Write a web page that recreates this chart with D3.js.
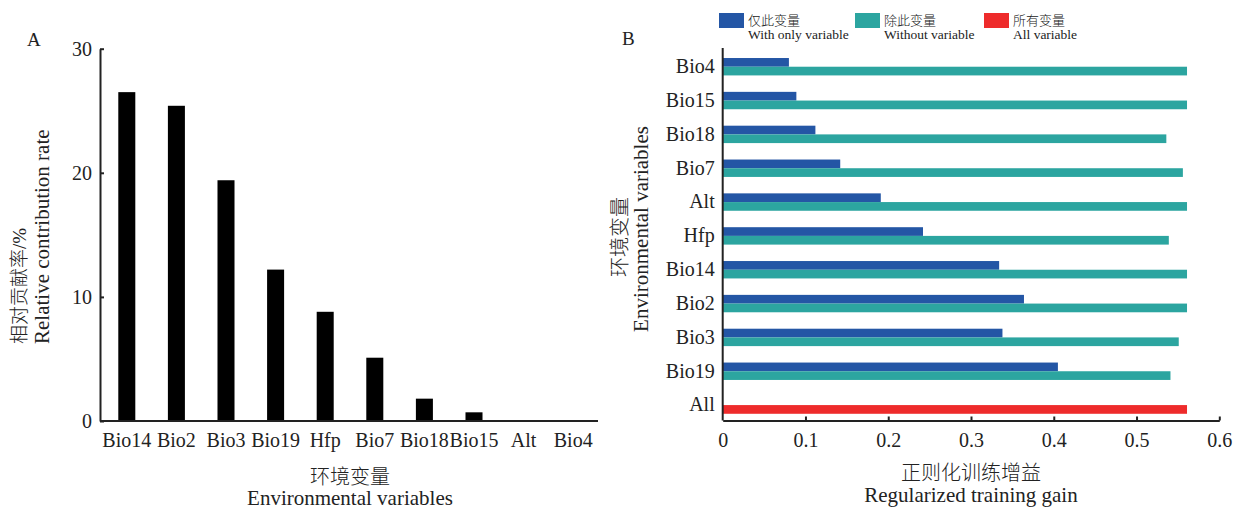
<!DOCTYPE html>
<html>
<head>
<meta charset="utf-8">
<script src="https://cdn.jsdelivr.net/npm/d3@7"></script>
<style>
    body { margin: 0; background: #fff; }
    svg text { font-family: "Liberation Serif", "Noto Sans CJK SC", serif; }
    .tick text { font-size: 20px; fill: #222; }
    .domain, .tick line { stroke: #222; stroke-width: 2px; }
    .zh { font-weight: 300; }
</style>
</head>
<body>
<svg id="chart" width="1241" height="510"></svg>
<script>
(function () {
    "use strict";

    // panel A: relative contribution rate (%)
    var contribNames = ["Bio14", "Bio2", "Bio3", "Bio19", "Hfp", "Bio7", "Bio18", "Bio15", "Alt", "Bio4"];
    var contribValues = [26.5, 25.4, 19.4, 12.2, 8.8, 5.1, 1.8, 0.7, 0, 0];
    var contribTicks = [0, 10, 20, 30];

    // panel B: jackknife of regularized training gain
    var gainNames = ["Bio4", "Bio15", "Bio18", "Bio7", "Alt", "Hfp", "Bio14", "Bio2", "Bio3", "Bio19", "All"];
    var gainOnly = [0.080, 0.089, 0.112, 0.142, 0.191, 0.242, 0.334, 0.364, 0.338, 0.405, null];
    var gainWithout = [0.561, 0.561, 0.536, 0.556, 0.561, 0.539, 0.561, 0.561, 0.551, 0.541, null];
    var gainAll = [null, null, null, null, null, null, null, null, null, null, 0.561];
    var gainTicks = [0, 0.1, 0.2, 0.3, 0.4, 0.5, 0.6];

    var legendZh = ["仅此变量", "除此变量", "所有变量"];
    var legendEn = ["With only variable", "Without variable", "All variable"];
    var seriesColors = ["#2456a5", "#2ca5a0", "#ee2b2b"];

    var svg = d3.select("#chart");

    // ---------- panel A ----------
    var xA = d3.scaleBand().domain(contribNames).range([102, 598])
        .paddingInner(0.657).paddingOuter(0.3285);
    var yA = d3.scaleLinear().domain([0, 30]).range([421, 48.7]);

    var gA = svg.append("g");

    gA.append("g")
        .selectAll("rect")
        .data(contribNames)
        .enter()
        .append("rect")
        .attr("x", function (d) { return xA(d); })
        .attr("width", xA.bandwidth())
        .attr("y", function (d, i) { return yA(contribValues[i]); })
        .attr("height", function (d, i) { return yA(0) - yA(contribValues[i]); })
        .attr("fill", "#000");

    gA.append("g")
        .attr("transform", "translate(100,0)")
        .call(d3.axisLeft(yA).tickValues(contribTicks).tickSizeInner(-4).tickSizeOuter(0).tickPadding(8));

    gA.append("g")
        .attr("transform", "translate(0," + yA(0) + ")")
        .call(d3.axisBottom(xA).tickSize(0).tickPadding(12))
        .call(function (g) { g.select(".domain").attr("d", "M100,0H598"); });

    gA.append("text").attr("x", 27).attr("y", 46).attr("font-size", 19).attr("fill", "#222").text("A");

    gA.append("text").attr("class", "zh")
        .attr("transform", "translate(26,344) rotate(-90)")
        .attr("font-size", 19).attr("fill", "#222")
        .text("相对贡献率/%");
    gA.append("text")
        .attr("transform", "translate(49,344) rotate(-90)")
        .attr("font-size", 21).attr("fill", "#222")
        .text("Relative contribution rate");

    gA.append("text").attr("class", "zh").attr("x", 350).attr("y", 484).attr("text-anchor", "middle")
        .attr("font-size", 20).attr("fill", "#222").text("环境变量");
    gA.append("text").attr("x", 350).attr("y", 505).attr("text-anchor", "middle")
        .attr("font-size", 21).attr("fill", "#222").text("Environmental variables");

    // ---------- panel B ----------
    var xB = d3.scaleLinear().domain([0, 0.6]).range([722.7, 1219.3]);
    var yB = d3.scaleBand().domain(gainNames).range([49.8, 422]);
    var slot = d3.scaleBand().domain(["only", "without"])
        .range([yB.bandwidth() / 2 - 8.7, yB.bandwidth() / 2 + 8.7]);

    var gB = svg.append("g");

    var series = [
        { key: "only", values: gainOnly, color: seriesColors[0] },
        { key: "without", values: gainWithout, color: seriesColors[1] },
        { key: "without", values: gainAll, color: seriesColors[2] }
    ];

    series.forEach(function (s) {
        gB.append("g")
            .selectAll("rect")
            .data(gainNames.filter(function (d, i) { return s.values[i] !== null; }))
            .enter()
            .append("rect")
            .attr("x", xB(0))
            .attr("y", function (d) { return yB(d) + slot(s.key); })
            .attr("height", slot.bandwidth())
            .attr("width", function (d) { return xB(s.values[gainNames.indexOf(d)]) - xB(0); })
            .attr("fill", s.color);
    });

    gB.append("g")
        .attr("transform", "translate(0,420.5)")
        .call(d3.axisBottom(xB).tickValues(gainTicks).tickFormat(d3.format("")).tickSizeInner(-4).tickSizeOuter(0).tickPadding(12))
        .call(function (g) { g.selectAll(".tick").filter(function (d) { return d === 0; }).select("line").remove(); });

    gB.append("g")
        .attr("transform", "translate(" + xB(0) + ",0)")
        .call(d3.axisLeft(yB).tickSize(0).tickPadding(8))
        .call(function (g) { g.select(".domain").attr("d", "M0,48V420.5"); });

    gB.append("text").attr("x", 622).attr("y", 45).attr("font-size", 19).attr("fill", "#222").text("B");

    gB.append("text").attr("class", "zh")
        .attr("transform", "translate(620,237) rotate(-90)")
        .attr("text-anchor", "middle").attr("dy", "0.35em")
        .attr("font-size", 20).attr("fill", "#222")
        .text("环境变量");
    gB.append("text")
        .attr("transform", "translate(641,229) rotate(-90)")
        .attr("text-anchor", "middle").attr("dy", "0.35em")
        .attr("font-size", 21).attr("fill", "#222")
        .text("Environmental variables");

    gB.append("text").attr("class", "zh").attr("x", 971).attr("y", 480).attr("text-anchor", "middle")
        .attr("font-size", 20).attr("fill", "#222").text("正则化训练增益");
    gB.append("text").attr("x", 971).attr("y", 502).attr("text-anchor", "middle")
        .attr("font-size", 21).attr("fill", "#222").text("Regularized training gain");

    // legend
    var legendX = [719, 855, 984];
    var legend = gB.append("g")
        .selectAll("g")
        .data(legendZh)
        .enter()
        .append("g")
        .attr("transform", function (d, i) { return "translate(" + legendX[i] + ",13)"; });
    legend.append("rect").attr("width", 25).attr("height", 15)
        .attr("fill", function (d, i) { return seriesColors[i]; });
    legend.append("text").attr("class", "zh").attr("x", 29).attr("y", 12)
        .attr("font-size", 13).attr("fill", "#222")
        .text(function (d) { return d; });
    legend.append("text").attr("x", 29).attr("y", 26)
        .attr("font-size", 13.5).attr("fill", "#222")
        .text(function (d, i) { return legendEn[i]; });
}());
</script>
</body>
</html>
